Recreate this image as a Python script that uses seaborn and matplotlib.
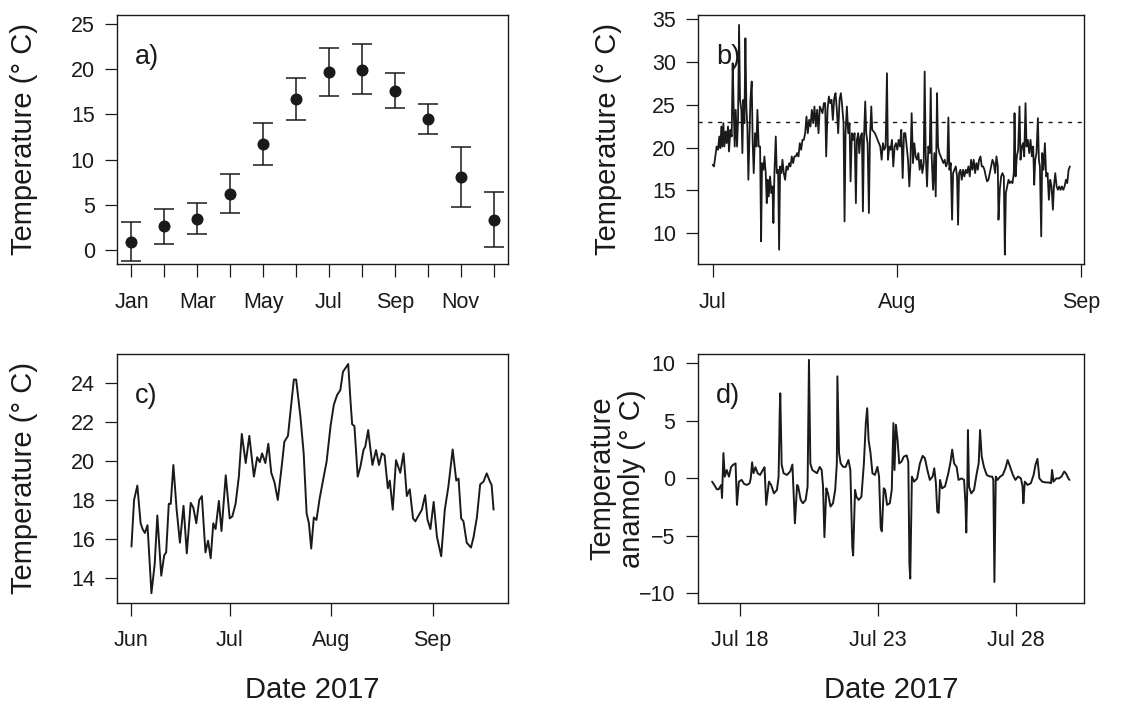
import pandas as pd
import numpy as np
import matplotlib
matplotlib.use("Agg")
import matplotlib.pyplot as plt
import seaborn as sns

# ── panel a: monthly means with error bars ──
months = [1, 2, 3, 4, 5, 6, 7, 8, 9, 10, 11, 12]
month_labels = ["Jan", "", "Mar", "", "May", "", "Jul", "", "Sep", "", "Nov", ""]
a_mean = [0.92, 2.62, 3.43, 6.2, 11.74, 16.69, 19.65, 19.94, 17.58, 14.51, 8.09, 3.36]
a_upper = [3.14, 4.58, 5.21, 8.42, 14.07, 19.05, 22.3, 22.75, 19.57, 16.17, 11.45, 6.43]
a_lower = [-1.22, 0.70, 1.74, 4.06, 9.42, 14.36, 17.02, 17.21, 15.66, 12.85, 4.8, 0.33]

# ── panel b: Jul-Aug record (days since Jul 1) ──
b_day = [0.00, 0.22, 0.45, 0.67, 0.90, 1.12, 1.29, 1.46, 1.63, 1.80, 1.97, 2.19, 2.36, 2.58, 2.75,
         2.98, 3.20, 3.37, 3.54, 3.71, 3.88, 4.10, 4.27, 4.44, 4.61, 4.83, 5.00, 5.17, 5.34, 5.51,
         5.67, 5.84, 6.01, 6.18, 6.35, 6.57, 6.74, 6.91, 7.13, 7.36, 7.53, 7.75, 7.98, 8.15, 8.31,
         8.54, 8.71, 8.93, 9.10, 9.27, 9.44, 9.66, 9.89, 10.06, 10.22, 10.39, 10.62, 10.79, 11.01,
         11.18, 11.35, 11.57, 11.74, 11.97, 12.19, 12.42, 12.64, 12.87, 13.09, 13.31, 13.54, 13.76,
         13.99, 14.21, 14.44, 14.66, 14.89, 15.11, 15.34, 15.56, 15.79, 16.01, 16.24, 16.46, 16.69,
         16.91, 17.13, 17.36, 17.58, 17.81, 18.03, 18.26, 18.48, 18.71, 18.93, 19.10, 19.33, 19.55,
         19.78, 20.00, 20.22, 20.45, 20.67, 20.90, 21.12, 21.35, 21.57, 21.80, 22.02, 22.19, 22.36,
         22.58, 22.81, 23.03, 23.20, 23.43, 23.65, 23.88, 24.10, 24.27, 24.49, 24.66, 24.89, 25.11,
         25.28, 25.45, 25.67, 25.84, 26.07, 26.29, 26.46, 26.69, 26.85, 27.08, 27.30, 27.53, 27.75,
         27.98, 28.20, 28.43, 28.65, 28.88, 29.10, 29.33, 29.49, 29.72, 29.94, 30.17, 30.39, 30.62,
         30.84, 31.07, 31.29, 31.52, 31.74, 31.97, 32.19, 32.42, 32.64, 32.87, 33.09, 33.26, 33.48,
         33.71, 33.93, 34.16, 34.38, 34.61, 34.83, 35.06, 35.28, 35.51, 35.67, 35.84, 36.07, 36.29,
         36.52, 36.69, 36.85, 37.08, 37.30, 37.53, 37.75, 37.92, 38.15, 38.37, 38.60, 38.82, 39.04,
         39.27, 39.49, 39.66, 39.83, 40.06, 40.28, 40.45, 40.67, 40.90, 41.12, 41.29, 41.46, 41.69,
         41.91, 42.13, 42.36, 42.58, 42.81, 43.03, 43.26, 43.48, 43.71, 43.93, 44.16, 44.38, 44.61,
         44.83, 45.06, 45.28, 45.51, 45.73, 45.96, 46.18, 46.40, 46.63, 46.85, 47.08, 47.30, 47.53,
         47.75, 47.98, 48.09, 48.31, 48.54, 48.76, 48.99, 49.16, 49.33, 49.55, 49.78, 50.00, 50.22,
         50.45, 50.67, 50.79, 50.96, 51.18, 51.40, 51.63, 51.80, 52.02, 52.25, 52.42, 52.64, 52.81,
         53.03, 53.26, 53.48, 53.71, 53.93, 54.10, 54.27, 54.49, 54.72, 54.89, 55.06, 55.28, 55.45,
         55.67, 55.90, 56.12, 56.35, 56.57, 56.80, 57.02, 57.25, 57.42, 57.64, 57.87, 58.09, 58.31,
         58.54, 58.76, 58.99, 59.21, 59.44, 59.66, 59.89, 60.11]
b_temp = [17.98, 17.79, 18.96, 20.12, 19.74, 21.29, 19.93, 22.46, 20.12, 22.85, 20.12, 21.88, 20.51,
          22.46, 19.54, 22.07, 21.29, 29.86, 24.41, 20.12, 24.41, 20.12, 23.24, 34.34, 25.58, 24.41,
          19.35, 25.58, 22.85, 32.78, 24.80, 22.46, 16.23, 20.90, 25.58, 27.72, 20.51, 17.01, 21.68,
          20.12, 24.41, 20.12, 20.12, 9.03, 18.18, 17.40, 18.96, 17.01, 13.50, 16.23, 14.28, 16.62,
          14.67, 15.45, 11.17, 17.01, 21.29, 17.01, 17.40, 8.05, 17.79, 17.01, 18.57, 17.01, 16.23,
          17.79, 17.40, 18.18, 17.79, 18.96, 18.18, 18.96, 18.96, 19.35, 18.96, 20.51, 19.74, 20.90,
          20.90, 21.68, 23.63, 21.68, 23.24, 22.46, 24.41, 22.85, 24.80, 22.46, 24.41, 21.68, 24.80,
          24.41, 24.02, 25.19, 25.19, 18.96, 24.41, 25.97, 25.19, 25.58, 23.24, 25.77, 26.36, 24.41,
          21.68, 25.58, 26.36, 24.80, 22.85, 11.36, 21.68, 24.80, 21.68, 22.85, 16.04, 21.68, 20.90,
          21.68, 13.50, 20.90, 21.68, 19.35, 21.29, 21.68, 12.53, 20.90, 25.38, 21.68, 20.51, 12.34,
          20.90, 24.80, 22.07, 21.88, 21.68, 21.29, 20.90, 20.51, 20.12, 18.57, 20.51, 19.74, 20.12,
          28.69, 18.57, 20.12, 19.74, 20.90, 17.79, 20.12, 20.51, 19.74, 20.90, 20.12, 22.07, 16.43,
          21.68, 21.68, 20.12, 18.57, 15.45, 17.79, 24.02, 18.18, 20.51, 18.96, 18.57, 19.35, 17.40,
          18.57, 17.01, 18.18, 28.89, 19.35, 15.45, 20.12, 19.35, 26.94, 18.96, 15.06, 19.35, 14.28,
          26.36, 20.12, 19.35, 18.96, 18.57, 18.18, 18.57, 17.79, 18.18, 23.51, 17.40, 18.18, 11.56,
          17.01, 17.40, 17.79, 16.62, 10.97, 17.01, 17.40, 16.23, 17.40, 16.62, 17.40, 17.01, 17.79,
          16.62, 18.57, 17.40, 18.57, 17.01, 18.18, 17.40, 18.57, 18.96, 17.79, 17.79, 17.40, 16.62,
          16.04, 16.23, 17.01, 17.79, 18.57, 18.18, 17.01, 18.96, 17.79, 11.56, 15.06, 16.62, 17.01,
          16.62, 7.47, 14.67, 15.45, 16.23, 15.84, 16.04, 15.84, 17.01, 24.02, 16.62, 18.96, 19.74,
          24.80, 18.57, 20.12, 20.51, 18.96, 25.19, 20.12, 20.90, 19.35, 20.90, 18.96, 20.12, 15.65,
          18.57, 19.35, 23.43, 18.57, 17.79, 9.61, 19.35, 17.40, 20.51, 16.62, 17.01, 13.89, 16.23,
          15.45, 12.73, 15.45, 17.01, 15.45, 15.06, 15.45, 15.06, 15.45, 15.06, 15.45, 16.23, 15.84,
          17.40, 17.79]
b_threshold = 23

# ── panel c: smoothed summer series (days since Jun 1) ──
c_day = [0.0, 0.8, 1.8, 2.8, 3.4, 4.1, 4.9, 6.1, 7.1, 7.9, 9.1, 10.0, 10.6, 11.4, 12.0, 12.8, 13.8,
         14.8, 15.9, 16.9, 18.1, 18.9, 19.8, 20.7, 21.5, 22.6, 23.4, 24.2, 25.0, 25.7, 26.7, 27.5,
         28.8, 30.0, 30.8, 31.8, 32.8, 33.7, 34.9, 36.0, 37.4, 38.4, 39.2, 39.9, 40.9, 41.8, 42.7,
         43.7, 44.7, 46.0, 46.7, 47.8, 48.6, 49.6, 50.3, 51.6, 52.6, 53.5, 54.2, 54.9, 55.7, 56.5,
         57.5, 58.5, 59.6, 60.8, 61.8, 62.8, 63.8, 64.6, 66.2, 66.9, 67.4, 68.1, 69.1, 69.9, 70.9,
         71.4, 72.3, 73.0, 73.6, 74.7, 75.6, 76.5, 77.3, 78.3, 78.9, 79.8, 80.8, 82.1, 83.1, 84.1,
         85.0, 86.0, 86.7, 87.7, 88.7, 89.7, 90.4, 91.3, 92.3, 93.3, 94.6, 95.7, 96.8, 98.1, 99.2,
         99.9, 100.7, 101.4, 102.4, 103.7, 104.5, 105.5, 106.5, 107.5, 108.5, 109.5, 110.0, 110.6]
c_temp = [15.6, 18.0, 18.74, 16.8, 16.5, 16.3, 16.7, 13.2, 14.7, 17.2, 14.1, 15.15, 15.3, 17.8, 17.8,
          19.8, 17.5, 15.8, 17.7, 15.25, 17.85, 17.6, 16.8, 18.0, 18.2, 15.3, 15.9, 15.0, 16.8, 16.5,
          17.95, 16.4, 19.27, 17.05, 17.15, 17.8, 19.2, 21.4, 19.9, 21.3, 19.2, 20.2, 19.95, 20.4,
          19.9, 20.9, 19.4, 18.9, 18.0, 19.9, 21.0, 21.3, 22.6, 24.2, 24.2, 22.3, 20.4, 17.3, 16.8,
          15.5, 17.1, 16.97, 18.1, 19.0, 19.97, 21.8, 22.9, 23.4, 23.66, 24.6, 25.0, 23.1, 21.9, 21.8,
          19.2, 19.7, 20.6, 20.74, 21.6, 20.6, 19.8, 20.57, 19.8, 20.4, 20.3, 18.6, 19.0, 17.5, 20.05,
          19.4, 20.4, 18.2, 18.55, 17.05, 16.9, 17.2, 17.5, 18.25, 17.0, 16.5, 17.9, 16.1, 15.1, 17.5,
          18.7, 20.6, 19.0, 19.1, 17.05, 16.9, 15.8, 15.55, 16.1, 17.1, 18.8, 18.94, 19.37, 18.94,
          18.77, 17.5]

# ── panel d: anomaly (days since Jul 17) ──
d_day = [0.00, 0.08, 0.17, 0.24, 0.33, 0.36, 0.41, 0.46, 0.53, 0.61, 0.69, 0.77, 0.85, 0.90, 0.97,
         1.07, 1.16, 1.26, 1.36, 1.40, 1.45, 1.50, 1.57, 1.65, 1.74, 1.84, 1.90, 1.96, 2.06, 2.14,
         2.24, 2.35, 2.41, 2.45, 2.47, 2.52, 2.59, 2.71, 2.83, 2.91, 2.95, 3.00, 3.08, 3.12, 3.21,
         3.29, 3.39, 3.46, 3.51, 3.56, 3.63, 3.72, 3.80, 3.90, 3.97, 4.02, 4.07, 4.14, 4.20, 4.29,
         4.38, 4.46, 4.52, 4.54, 4.60, 4.66, 4.75, 4.84, 4.94, 5.01, 5.08, 5.11, 5.18, 5.23, 5.31,
         5.41, 5.50, 5.57, 5.62, 5.67, 5.74, 5.81, 5.90, 5.99, 6.05, 6.11, 6.15, 6.22, 6.27, 6.34,
         6.44, 6.51, 6.57, 6.61, 6.66, 6.72, 6.78, 6.86, 6.95, 7.05, 7.11, 7.15, 7.18, 7.24, 7.32,
         7.43, 7.53, 7.63, 7.71, 7.80, 7.89, 7.99, 8.05, 8.11, 8.16, 8.21, 8.26, 8.33, 8.44, 8.56,
         8.64, 8.70, 8.77, 8.86, 8.93, 9.04, 9.13, 9.18, 9.21, 9.25, 9.27, 9.31, 9.39, 9.49, 9.59,
         9.66, 9.71, 9.77, 9.85, 9.95, 10.07, 10.15, 10.19, 10.23, 10.28, 10.34, 10.44, 10.53,
         10.63, 10.71, 10.80, 10.90, 10.99, 11.09, 11.19, 11.25, 11.28, 11.33, 11.43, 11.55, 11.65,
         11.72, 11.79, 11.86, 11.96, 12.08, 12.20, 12.28, 12.32, 12.37, 12.47, 12.57, 12.66, 12.76,
         12.83, 12.91, 12.95]
d_anom = [-0.28, -0.57, -0.94, -0.94, -0.57, -1.7, 2.2, 0.15, 0.73, 0.15, 1.0, 1.2, 1.3, -2.3, -0.28,
          -0.13, -0.48, -0.57, -0.42, 0.0, 1.4, 0.45, 0.97, 0.45, 0.3, 0.74, 0.97, -2.3, -0.28, -0.57,
          -1.3, -1.0, 0.16, 5.7, 7.4, 1.2, 0.45, 0.3, 0.6, 1.2, -1.0, -3.9, -0.57, -0.7, -1.87, -2.16,
          -1.87, -0.7, 10.3, 1.3, 0.73, 0.58, 0.45, 1.0, 0.73, -0.7, -5.1, -0.86, -1.3, -2.45, -2.16,
          -1.0, 1.3, 8.87, 2.2, 1.3, 1.0, 1.0, 1.6, 0.73, -5.96, -6.7, -1.0, -1.6, -1.87, -1.6, 1.3,
          4.8, 6.1, 3.35, 2.2, 0.45, 0.3, 1.0, 0.16, -4.3, -4.6, -0.86, -1.0, -2.3, -2.16, -1.0, 4.8,
          0.73, 4.66, 3.35, 1.3, 1.45, 1.9, 2.0, 1.45, -7.4, -8.7, 0.16, -0.28, 0.0, 1.3, 1.96, 1.76,
          0.73, -0.13, 0.16, 0.88, -0.42, -2.9, -3.0, -0.13, -0.86, -0.7, 0.45, 1.45, 2.5, 1.3, 1.0,
          -0.13, 0.0, -0.13, -2.16, -4.7, -0.42, 4.2, -0.7, -1.3, -1.0, 0.45, 1.3, 4.2, 1.9, 1.0, 0.3,
          0.16, 0.16, -0.13, -9.0, 0.16, -0.13, 0.16, 0.3, 0.88, 1.6, 1.0, 0.3, -0.13, 0.16, 0.0,
          -0.7, -2.16, -0.28, -0.57, -0.42, 0.3, 1.2, 1.7, 0.0, -0.28, -0.35, -0.35, -0.42, 0.73,
          -0.28, 0.0, 0.0, 0.16, 0.6, 0.4, 0.0, -0.13]

ylab = "Temperature (\u00b0 C)"
ink = "#1a1a1a"

sns.set_theme(style="ticks")
plt.rcParams["font.family"] = ["Liberation Sans", "DejaVu Sans"]
plt.rcParams["axes.unicode_minus"] = True

fig = plt.figure(figsize=(11.48, 7.04), dpi=100)
ax_a = fig.add_axes([0.1019, 0.625, 0.3406, 0.3537])
ax_b = fig.add_axes([0.6082, 0.625, 0.3359, 0.3537])
ax_c = fig.add_axes([0.1019, 0.1439, 0.3406, 0.3531])
ax_d = fig.add_axes([0.6078, 0.1439, 0.3363, 0.3531])


def style_axes(ax):
    for sp in ax.spines.values():
        sp.set_visible(True)
        sp.set_color(ink)
        sp.set_linewidth(1.0)
    ax.tick_params(direction="out", length=9, width=0.9, colors=ink, labelsize=15.5)
    ax.tick_params(axis="x", pad=11)
    ax.tick_params(axis="y", pad=7)
    ax.grid(False)


def panel_tag(ax, tag):
    ax.text(0.046, 0.83, tag, transform=ax.transAxes, ha="left", va="center",
            fontsize=19.5, color=ink)


def put_ylabel(ax, text, xpos):
    ax.set_ylabel(text, fontsize=21, color=ink, linespacing=1.1)
    ax.yaxis.set_label_coords(xpos, 0.5)
    ax.yaxis.label.set_verticalalignment("center")


def put_xlabel(ax, text):
    ax.set_xlabel(text, fontsize=21, color=ink)
    ax.xaxis.set_label_coords(0.5, -0.351)
    ax.xaxis.label.set_verticalalignment("center")


# a) monthly means
sns.scatterplot(x=months, y=a_mean, ax=ax_a, color=ink, s=75, edgecolor=ink, linewidth=0, zorder=3)
err = [np.array(a_mean) - np.array(a_lower), np.array(a_upper) - np.array(a_mean)]
ax_a.errorbar(months, a_mean, yerr=err, fmt="none", ecolor=ink, elinewidth=1.1,
              capsize=7, capthick=1.1)
ax_a.set_xlim(0.56, 12.44)
ax_a.set_ylim(-1.55, 26.0)
ax_a.set_xticks(months)
ax_a.set_xticklabels(month_labels)
ax_a.set_yticks([0, 5, 10, 15, 20, 25])
ax_a.set_xlabel("")
style_axes(ax_a)
put_ylabel(ax_a, ylab, -0.238)
panel_tag(ax_a, "a)")

# b) Jul-Aug record
jul1 = pd.Timestamp("2017-07-01")
df_b = pd.DataFrame({"date": jul1 + pd.to_timedelta(b_day, unit="D"), "temp": b_temp})
sns.lineplot(data=df_b, x="date", y="temp", ax=ax_b, color=ink, linewidth=1.3,
             estimator=None, sort=False)
ax_b.axhline(b_threshold, color=ink, linestyle=(0, (3, 4)), linewidth=1.0)
ax_b.set_xlim(jul1 - pd.Timedelta(days=2.43), jul1 + pd.Timedelta(days=62.45))
ax_b.set_ylim(6.38, 35.5)
ax_b.set_xticks([pd.Timestamp("2017-07-01"), pd.Timestamp("2017-08-01"), pd.Timestamp("2017-09-01")])
ax_b.set_xticklabels(["Jul", "Aug", "Sep"])
ax_b.set_yticks([10, 15, 20, 25, 30, 35])
ax_b.set_xlabel("")
style_axes(ax_b)
put_ylabel(ax_b, ylab, -0.234)
panel_tag(ax_b, "b)")

# c) smoothed summer
jun1 = pd.Timestamp("2017-06-01")
df_c = pd.DataFrame({"date": jun1 + pd.to_timedelta(c_day, unit="D"), "temp": c_temp})
sns.lineplot(data=df_c, x="date", y="temp", ax=ax_c, color=ink, linewidth=1.4,
             estimator=None, sort=False)
ax_c.set_xlim(jun1 - pd.Timedelta(days=4.42), jun1 + pd.Timedelta(days=115.0))
ax_c.set_ylim(12.71, 25.51)
ax_c.set_xticks([pd.Timestamp("2017-06-01"), pd.Timestamp("2017-07-01"),
                 pd.Timestamp("2017-08-01"), pd.Timestamp("2017-09-01")])
ax_c.set_xticklabels(["Jun", "Jul", "Aug", "Sep"])
ax_c.set_yticks([14, 16, 18, 20, 22, 24])
style_axes(ax_c)
put_ylabel(ax_c, ylab, -0.238)
put_xlabel(ax_c, "Date 2017")
panel_tag(ax_c, "c)")

# d) anomaly
jul17 = pd.Timestamp("2017-07-17")
df_d = pd.DataFrame({"date": jul17 + pd.to_timedelta(d_day, unit="D"), "anom": d_anom})
sns.lineplot(data=df_d, x="date", y="anom", ax=ax_d, color=ink, linewidth=1.4,
             estimator=None, sort=False)
ax_d.set_xlim(jul17 - pd.Timedelta(days=0.52), jul17 + pd.Timedelta(days=13.47))
ax_d.set_ylim(-10.8, 10.8)
ax_d.set_xticks([pd.Timestamp("2017-07-18"), pd.Timestamp("2017-07-23"), pd.Timestamp("2017-07-28")])
ax_d.set_xticklabels(["Jul 18", "Jul 23", "Jul 28"])
ax_d.set_yticks([-10, -5, 0, 5, 10])
style_axes(ax_d)
put_ylabel(ax_d, "Temperature\nanamoly (\u00b0 C)", -0.209)
put_xlabel(ax_d, "Date 2017")
panel_tag(ax_d, "d)")

fig.savefig("out.png", dpi=100, facecolor="white")
